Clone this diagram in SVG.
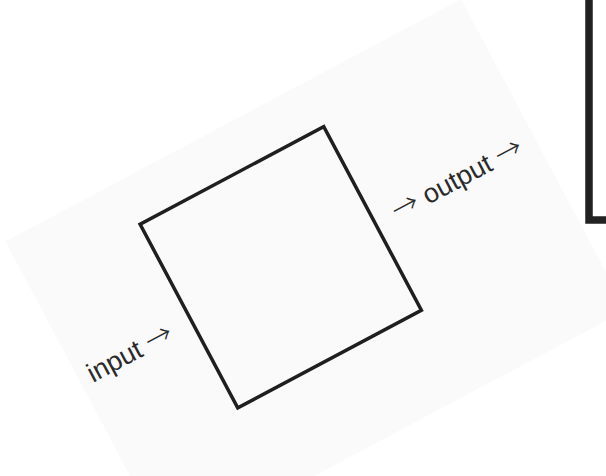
<svg xmlns="http://www.w3.org/2000/svg" width="606" height="476" viewBox="0 0 606 476">
  <style>
    .lbl { font-family: "Liberation Sans", Arial, sans-serif; font-size: 27px; fill: #2a2a2a; }
    .arr { font-family: "Noto Sans CJK SC", "DejaVu Sans", sans-serif; font-weight: 300; }
    .node { fill: none; stroke: #1f1f1f; stroke-width: 3.5; stroke-linejoin: miter; }
  </style>
  <rect x="0" y="0" width="606" height="476" fill="#ffffff"/>
  <g id="rotated-diagram" transform="translate(280.75 267.25) rotate(-28)">
    <rect id="backdrop" x="-231" y="-152" width="516" height="352" fill="#fafafa"/>
    <g id="block">
      <rect class="node" x="-104" y="-104" width="208" height="208"/>
    </g>
    <g id="label-input">
      <text class="lbl" x="-127" y="14" text-anchor="end">input <tspan class="arr">→</tspan></text>
    </g>
    <g id="label-output">
      <text class="lbl" x="125" y="14" text-anchor="start"><tspan class="arr">→</tspan> output <tspan class="arr">→</tspan></text>
    </g>
  </g>
  <g id="corner-box">
    <rect x="589" y="-10" width="40" height="230" fill="#ffffff" stroke="#222222" stroke-width="7.5"/>
  </g>
</svg>
